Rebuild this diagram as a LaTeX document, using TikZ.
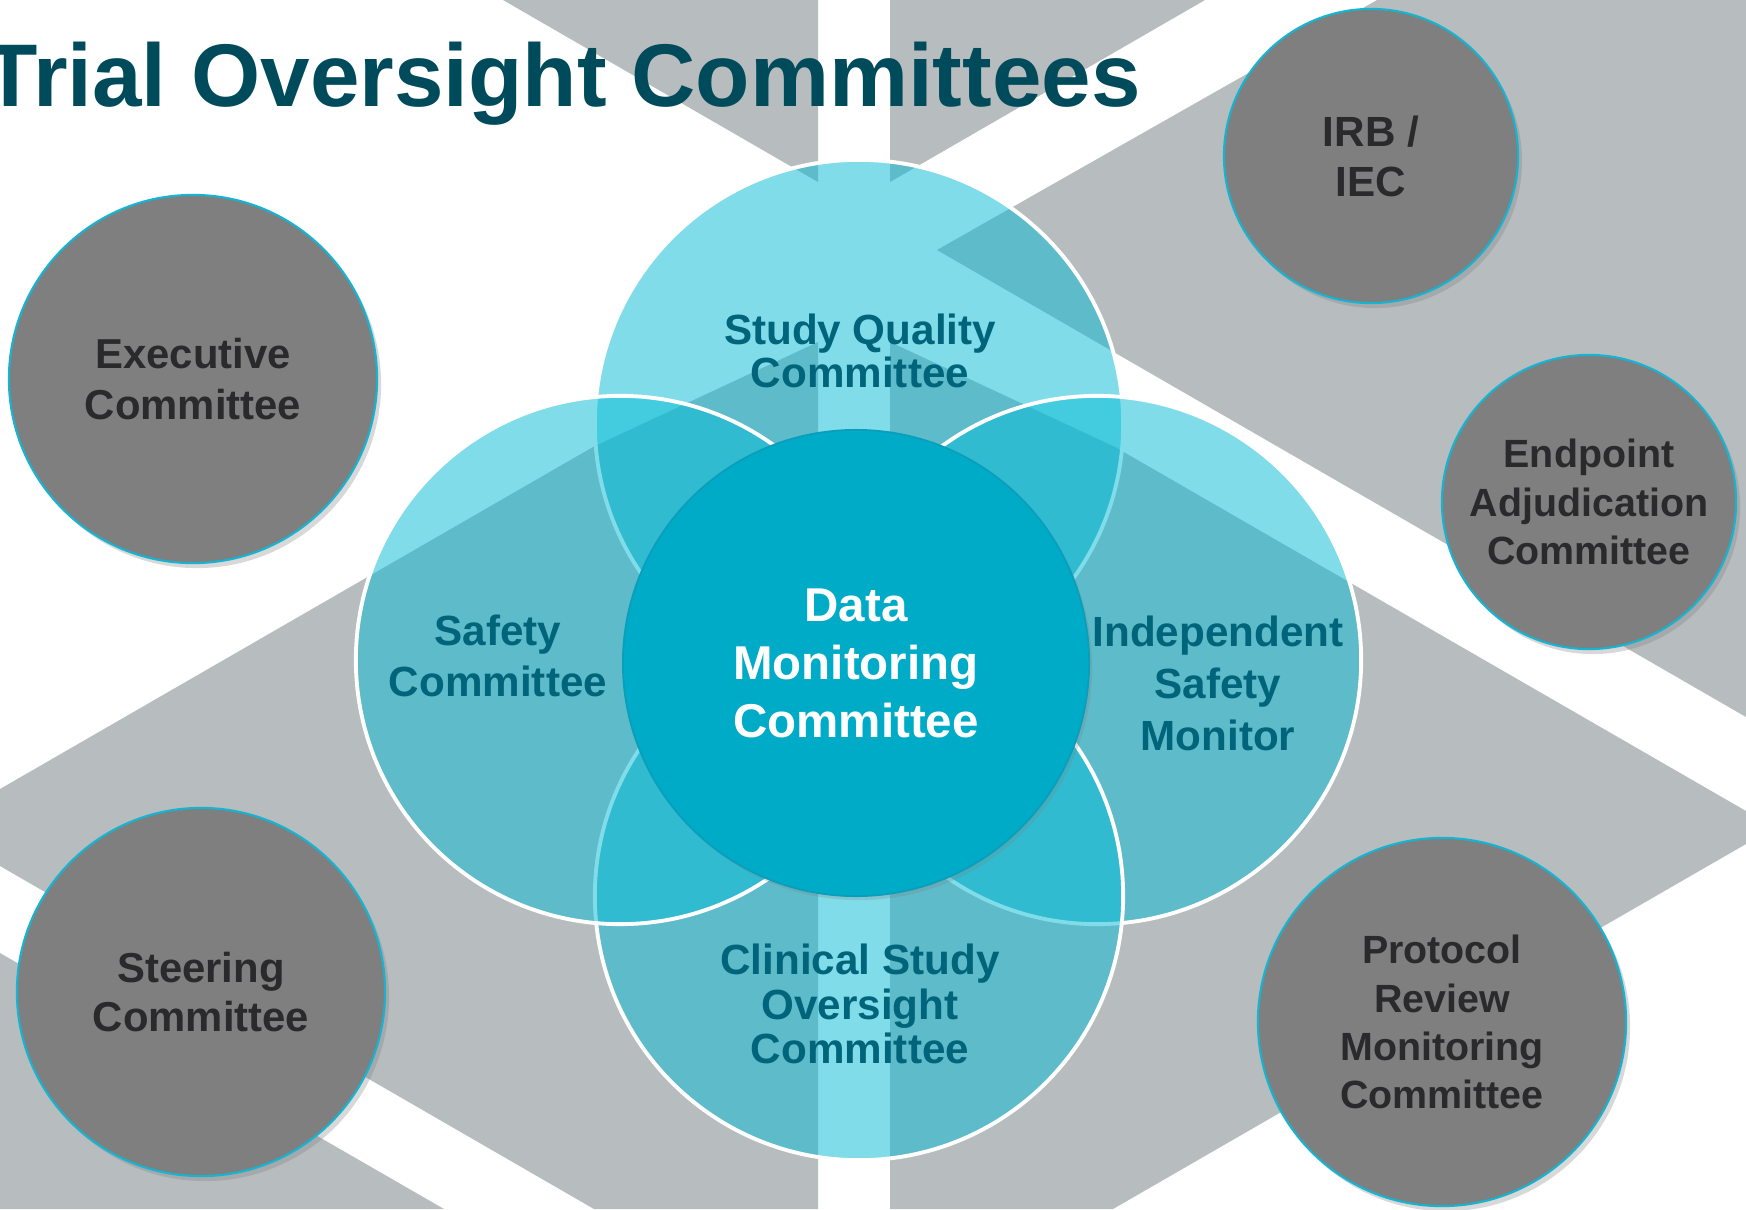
\documentclass[tikz,border=0pt]{standalone}
\usepackage{fontspec}
\setmainfont{Liberation Sans}
\usetikzlibrary{shadows}

\definecolor{titleteal}{HTML}{004B5B}
\definecolor{petalteal}{HTML}{00647A}
\definecolor{petalblue}{RGB}{8,187,214}
\definecolor{dmcblue}{HTML}{00ABC8}
\definecolor{dmcedge}{HTML}{0A9EBA}
\definecolor{bandgray}{HTML}{B7BCBE}
\definecolor{outergray}{HTML}{7F7F7F}
\definecolor{outeredge}{HTML}{17B4D2}
\definecolor{outertext}{HTML}{2A2A2D}

\newcommand\committeefont[2]{\fontsize{#1}{#2}\selectfont\bfseries}

\tikzset{
  petal/.style={circle, inner sep=0pt, minimum size=5.28cm,
    fill=petalblue, fill opacity=0.51, draw=white, draw opacity=1, line width=1.1pt},
  outer/.style={circle, inner sep=0pt, fill=outergray, draw=outeredge, line width=0.6pt,
    text=outertext, align=center,
    drop shadow={shadow xshift=0.04cm, shadow yshift=-0.05cm, opacity=0.3}},
  petaltext/.style={text=petalteal, align=center, inner sep=0pt},
}

\begin{document}
\begin{tikzpicture}[x=0.01cm, y=-0.01cm]
  \useasboundingbox (0,0) rectangle (1746,1209);
  \fill[white] (0,0) rectangle (1746,1209);

  % gray bands behind everything
  \fill[bandgray] (503,0) -- (818,0) -- (818,182) -- cycle;
  \fill[bandgray] (890,0) -- (1205,0) -- (890,182) -- cycle;
  \fill[bandgray] (1377,0) -- (937,250) -- (1746,717) -- (1746,0) -- cycle;
  \fill[bandgray] (0,789) -- (593,447) -- (818,342) -- (818,1209) -- (594,1209) -- (0,866) -- cycle;
  \fill[bandgray] (890,342) -- (1115,447) -- (1746,811) -- (1746,844) -- (1113,1209) -- (890,1209) -- cycle;
  \fill[bandgray] (0,953) -- (444,1209) -- (0,1209) -- cycle;

  % outer committees
  \node[outer, minimum size=3.68cm, font=\committeefont{11.9}{14.5}] (exec) at (193,379) {Executive\\Committee};
  \node[outer, minimum size=2.94cm, font=\committeefont{12}{14.2}] (irb) at (1371,156) {IRB /\\IEC};
  \node[outer, minimum size=2.94cm, font=\committeefont{11.2}{13.7}] (endpoint) at (1589,502) {Endpoint\\Adjudication\\Committee};
  \node[outer, minimum size=3.68cm, font=\committeefont{11.9}{14.2}] (steering) at (201,992) {Steering\\Committee};
  \node[outer, minimum size=3.68cm, font=\committeefont{11.2}{13.7}] (protocol) at (1442,1022) {Protocol\\Review\\Monitoring\\Committee};

  % the four petals, then the centre
  \node[petal] (sqc) at (859,424) {};
  \node[petal] (ism) at (1097,660) {};
  \node[petal] (csoc) at (859,896) {};
  \node[petal] (safety) at (620,660) {};
  \node[circle, inner sep=0pt, minimum size=4.66cm, fill=dmcblue, draw=dmcedge, line width=0.5pt,
    drop shadow={shadow xshift=0.03cm, shadow yshift=-0.04cm, opacity=0.25},
    text=white, align=center, font=\committeefont{13.5}{16.5}] (dmc) at (856,663)
    {Data\\Monitoring\\Committee};

  \node[petaltext, font=\committeefont{12}{12}] (sqclabel) at (860,351) {Study Quality\\Committee};
  \node[petaltext, font=\committeefont{12}{14.5}] (safetylabel) at (498,656) {Safety\\Committee};
  \node[petaltext, font=\committeefont{12}{14.8}] (ismlabel) at (1218,683) {Independent\\Safety\\Monitor};
  \node[petaltext, font=\committeefont{12}{12.7}] (csoclabel) at (860,1004) {Clinical Study\\Oversight\\Committee};

  % heading
  \node[anchor=base west, inner sep=0pt, text=titleteal, font=\committeefont{25.3}{30}] (title)
    at (-17,106) {Trial Oversight Committees};
\end{tikzpicture}
\end{document}
